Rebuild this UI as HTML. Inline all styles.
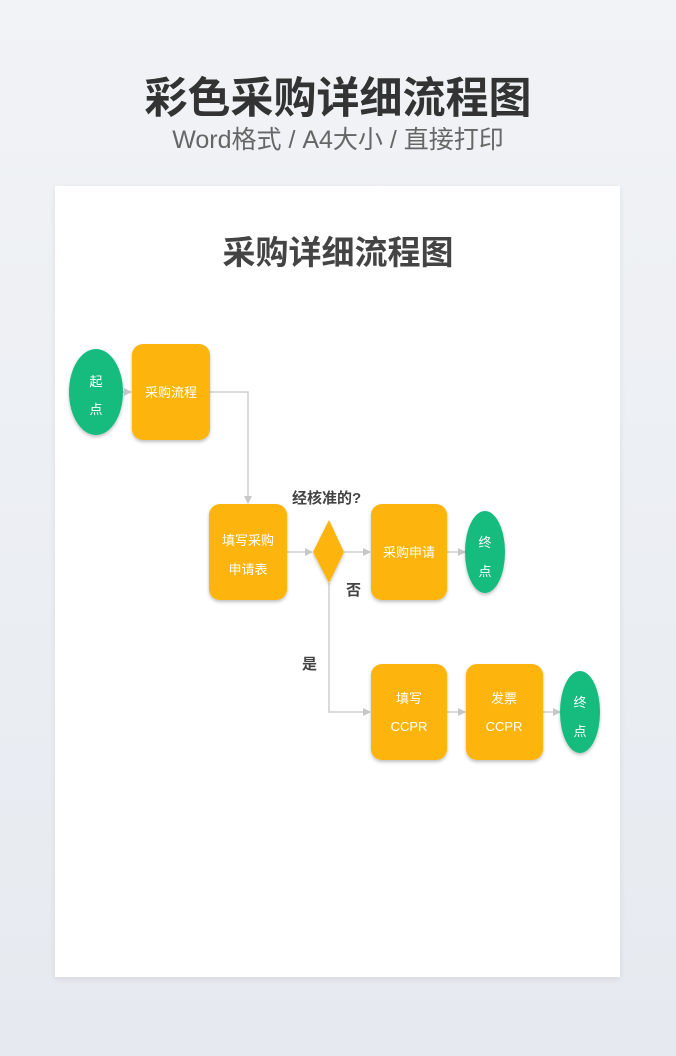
<!DOCTYPE html>
<html><head><meta charset="utf-8"><style>
html,body{margin:0;padding:0}
body{width:676px;height:1056px;background:linear-gradient(#f1f3f6,#e6eaf0);position:relative;overflow:hidden;font-family:"Liberation Sans","Noto Sans CJK SC",sans-serif}
.t1{position:absolute;top:64px;left:0;width:676px;text-align:center;font-size:43px;font-weight:bold;color:#333}
.t2{position:absolute;top:120px;left:0;width:676px;text-align:center;font-size:25px;color:#666}
.card{position:absolute;left:55px;top:186px;width:565px;height:791px;background:#fff;box-shadow:0 2px 6px rgba(0,0,0,.08)}
</style></head><body>
<div class="t1">彩色采购详细流程图</div>
<div class="t2">Word格式 / A4大小 / 直接打印</div>
<div class="card"></div>
<svg width="676" height="1056" style="position:absolute;left:0;top:0" font-family="Liberation Sans, Noto Sans CJK SC, sans-serif">
<defs>
<marker id="a" markerWidth="8" markerHeight="8" refX="7" refY="4" orient="auto" markerUnits="userSpaceOnUse"><path d="M0,0 L8,4 L0,8z" fill="#c8c8c8"/></marker>
<filter id="s" x="-20%" y="-20%" width="140%" height="150%"><feDropShadow dx="0" dy="2" stdDeviation="1.5" flood-color="#000" flood-opacity="0.25"/></filter>
</defs>
<text x="338" y="264" text-anchor="middle" font-size="33" font-weight="bold" fill="#444">采购详细流程图</text>
<g stroke="#cfcfcf" stroke-width="1.5" fill="none">
<path d="M123,392 H131" marker-end="url(#a)"/>
<path d="M210,392 H248 V503" marker-end="url(#a)"/>
<path d="M287,552 H312" marker-end="url(#a)"/>
<path d="M344,552 H370" marker-end="url(#a)"/>
<path d="M447,552 H465" marker-end="url(#a)"/>
<path d="M329,583 V712 H370" marker-end="url(#a)"/>
<path d="M447,712 H465" marker-end="url(#a)"/>
<path d="M543,712 H560" marker-end="url(#a)"/>
</g>
<g fill="#12bb7e" filter="url(#s)">
<ellipse cx="96" cy="392" rx="27" ry="43"/>
<ellipse cx="485" cy="552" rx="20" ry="41"/>
<ellipse cx="580" cy="712" rx="20" ry="41"/>
</g>
<g fill="#fdb50c" filter="url(#s)">
<rect x="132" y="344" width="78" height="96" rx="11"/>
<rect x="209" y="504" width="78" height="96" rx="11"/>
<rect x="371" y="504" width="76" height="96" rx="11"/>
<rect x="371" y="664" width="76" height="96" rx="11"/>
<rect x="466" y="664" width="77" height="96" rx="11"/>
<path d="M329,520 L344,552 L329,583 L313,552z"/>
</g>
<g fill="#fff" font-size="13" text-anchor="middle">
<text x="96" y="386">起</text><text x="96" y="414">点</text>
<text x="171" y="397">采购流程</text>
<text x="248" y="545">填写采购</text><text x="248" y="574">申请表</text>
<text x="409" y="557">采购申请</text>
<text x="485" y="547">终</text><text x="485" y="576">点</text>
<text x="409" y="703">填写</text><text x="409" y="731">CCPR</text>
<text x="504" y="703">发票</text><text x="504" y="731">CCPR</text>
<text x="580" y="707">终</text><text x="580" y="736">点</text>
</g>
<g fill="#444" font-weight="bold" font-size="15">
<text x="292" y="503">经核准的?</text>
<text x="346" y="595">否</text>
<text x="302" y="669">是</text>
</g>
</svg>
</body></html>
